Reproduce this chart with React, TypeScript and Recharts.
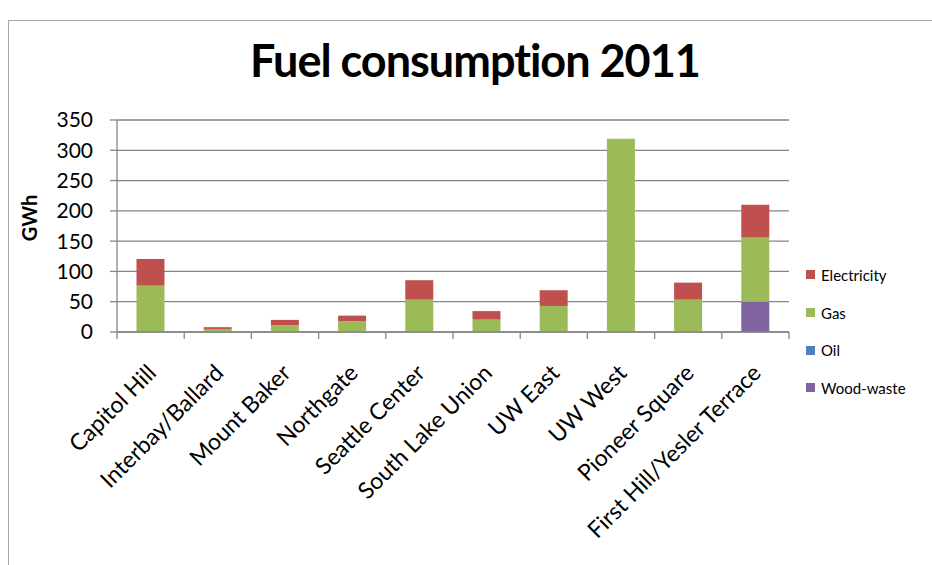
import React from "react";
import { BarChart, Bar, XAxis, YAxis, CartesianGrid, Legend } from "recharts";

const districts = [
  "Capitol Hill",
  "Interbay/Ballard",
  "Mount Baker",
  "Northgate",
  "Seattle Center",
  "South Lake Union",
  "UW East",
  "UW West",
  "Pioneer Square",
  "First Hill/Yesler Terrace",
];

// GWh per fuel
const woodWaste = [0, 0, 0, 0, 0, 0, 0, 0, 0, 50];
const oil = [0.5, 0, 0, 0, 0.5, 0.5, 0, 0, 0.5, 0];
const gas = [76, 5, 11, 18, 53, 20, 43, 319, 53, 106];
const electricity = [44, 3, 9, 9, 32, 14, 26, 0, 28, 54];

const yTicks = [0, 50, 100, 150, 200, 250, 300, 350];

const series = [
  { key: "woodWaste", name: "Wood-waste", color: "#8064A2" },
  { key: "oil", name: "Oil", color: "#4F81BD" },
  { key: "gas", name: "Gas", color: "#9BBB59" },
  { key: "electricity", name: "Electricity", color: "#C0504D" },
];

const data = districts.map((name, i) => ({
  name,
  woodWaste: woodWaste[i],
  oil: oil[i],
  gas: gas[i],
  electricity: electricity[i],
}));

const FONT = "Lato, 'Open Sans', sans-serif";
const AXIS_GRAY = "#868686";

const W = 932;
const H = 565;
const LEGEND_W = 126;
const RIGHT_PAD = 143; // plot edge to page edge, legend included
const margin = { top: 120, right: RIGHT_PAD - LEGEND_W, bottom: 0, left: 0 };
const Y_AXIS_W = 117;
const band = (W - RIGHT_PAD - Y_AXIS_W) / districts.length;

function DistrictTick({ x, y, payload, index }: any) {
  const left = x - band / 2;
  return (
    <g>
      <line x1={left} x2={left} y1={y} y2={y + 7} stroke={AXIS_GRAY} strokeWidth={1.3} />
      {index === districts.length - 1 && (
        <line x1={left + band} x2={left + band} y1={y} y2={y + 7} stroke={AXIS_GRAY} strokeWidth={1.3} />
      )}
      <text
        x={x}
        y={y}
        dx={-25}
        dy={35}
        textAnchor="end"
        transform={`rotate(-45, ${x}, ${y})`}
        fontFamily={FONT}
        fontSize={23}
        fill="#000"
      >
        {payload.value}
      </text>
    </g>
  );
}

function FuelLegend() {
  const items = [...series].reverse();
  return (
    <div style={{ fontFamily: FONT, fontSize: 15, color: "#000" }}>
      {items.map((s) => (
        <div key={s.key} style={{ display: "flex", alignItems: "center", height: 37.7 }}>
          <span style={{ width: 9, height: 9, background: s.color, marginRight: 6 }} />
          {s.name}
        </div>
      ))}
    </div>
  );
}

export default function App() {
  return (
    <div style={{ position: "absolute", left: 0, top: 0, width: W, height: H, background: "#fff" }}>
      <div
        style={{
          position: "absolute",
          left: 8,
          top: 20,
          right: 0,
          bottom: 0,
          borderLeft: "1.5px solid #a6a6a6",
          borderTop: "1.5px solid #a6a6a6",
        }}
      />
      <div
        style={{
          position: "absolute",
          left: 0,
          width: 950,
          top: 33,
          textAlign: "center",
          fontFamily: FONT,
          fontWeight: 700,
          fontSize: 45,
          letterSpacing: -1,
        }}
      >
        Fuel consumption 2011
      </div>
      <div
        style={{
          position: "absolute",
          left: -1,
          top: 206,
          width: 60,
          textAlign: "center",
          transform: "rotate(-90deg)",
          fontFamily: FONT,
          fontWeight: 700,
          fontSize: 20,
        }}
      >
        GWh
      </div>
      <BarChart
        width={W}
        height={H}
        data={data}
        margin={margin}
        barCategoryGap="29%"
        style={{ position: "absolute", left: 0, top: 0 }}
      >
        <CartesianGrid vertical={false} stroke={AXIS_GRAY} strokeWidth={1.3} />
        <XAxis
          dataKey="name"
          interval={0}
          height={233}
          stroke={AXIS_GRAY}
          strokeWidth={1.3}
          tickLine={false}
          tickSize={0}
          tickMargin={0}
          tick={<DistrictTick />}
        />
        <YAxis
          domain={[0, 350]}
          ticks={yTicks}
          width={Y_AXIS_W}
          tickSize={7}
          tickMargin={17}
          stroke={AXIS_GRAY}
          strokeWidth={1.3}
          tick={{ fill: "#000", fontSize: 21, fontFamily: FONT }}
        />
        <Legend
          layout="vertical"
          align="right"
          verticalAlign="middle"
          width={LEGEND_W}
          content={<FuelLegend />}
          wrapperStyle={{ position: "absolute", left: 806, top: 256, width: LEGEND_W }}
        />
        {series.map((s) => (
          <Bar
            key={s.key}
            dataKey={s.key}
            name={s.name}
            stackId="fuel"
            fill={s.color}
            isAnimationActive={false}
          />
        ))}
      </BarChart>
    </div>
  );
}
